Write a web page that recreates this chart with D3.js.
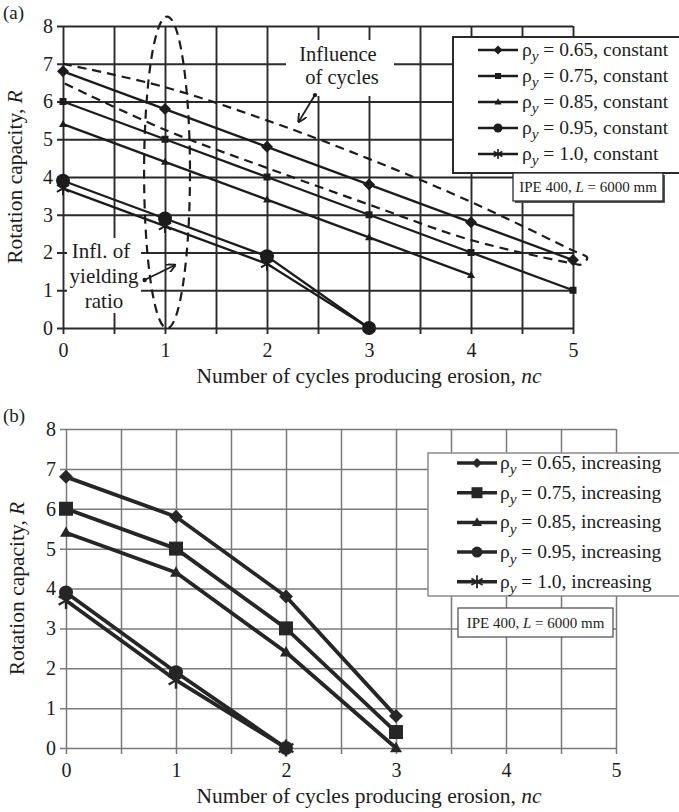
<!DOCTYPE html>
<html><head><meta charset="utf-8">
<script src="https://cdn.jsdelivr.net/npm/d3@7"></script>
<style>
body{margin:0;background:#fff}
svg{display:block}
text{font-family:"Liberation Serif","Times New Roman",serif;fill:#1c1c1c}
</style>
</head><body>
<svg id="c" width="679" height="812"></svg>
<script>
// ---------- data ----------
const ncTicks = [0, 1, 2, 3, 4, 5];
const rTicks = [0, 1, 2, 3, 4, 5, 6, 7, 8];
const rhoLabels = ["0.65", "0.75", "0.85", "0.95", "1.0"];
const markerTypes = ["diamond", "square", "triangle", "circle", "asterisk"];

// (a) constant yielding ratio
const ncA = [0, 1, 2, 3, 4, 5];
const constant065 = [6.8, 5.8, 4.8, 3.8, 2.8, 1.8];
const constant075 = [6.0, 5.0, 4.0, 3.0, 2.0, 1.0];
const constant085 = [5.4, 4.4, 3.4, 2.4, 1.4];
const constant095 = [3.9, 2.9, 1.9, 0.0];
const constant100 = [3.7, 2.7, 1.7, 0.0];

// (b) increasing yielding ratio
const ncB = [0, 1, 2, 3];
const increasing065 = [6.8, 5.8, 3.8, 0.8];
const increasing075 = [6.0, 5.0, 3.0, 0.4];
const increasing085 = [5.4, 4.4, 2.4, 0.0];
const increasing095 = [3.9, 1.9, 0.0];
const increasing100 = [3.7, 1.7, 0.0];

// annotation outlines (data units)
const cyclesEnvelopeUpper = [[0, 7.0], [1, 6.38], [2, 5.5], [3, 4.48], [4, 3.34], [5, 2.05], [5.14, 1.86]];
const cyclesEnvelopeLower = [[5.08, 1.68], [5, 1.71], [4, 2.33], [3, 3.27], [2, 4.24], [1, 5.25], [0, 6.5]];
const yieldEllipse = {cx: 1.02, cy: 4.12, rx: 0.225, ry: 4.13};

const seriesA = [constant065, constant075, constant085, constant095, constant100];
const seriesB = [increasing065, increasing075, increasing085, increasing095, increasing100];

// ---------- drawing ----------
const svg = d3.select("#c");
const INK = "#1c1c1c";

function marker(g, type, cx, cy, s, color) {
  const h = s / 2;
  if (type === "diamond") {
    g.append("path").attr("d", `M${cx},${cy - h}L${cx + h},${cy}L${cx},${cy + h}L${cx - h},${cy}Z`).attr("fill", color);
  } else if (type === "square") {
    g.append("rect").attr("x", cx - h).attr("y", cy - h).attr("width", s).attr("height", s).attr("fill", color);
  } else if (type === "triangle") {
    const th = s * 0.87;
    g.append("path").attr("d", `M${cx},${cy - th * 0.6}L${cx + h},${cy + th * 0.4}L${cx - h},${cy + th * 0.4}Z`).attr("fill", color);
  } else if (type === "circle") {
    g.append("circle").attr("cx", cx).attr("cy", cy).attr("r", h).attr("fill", color);
  } else if (type === "asterisk") {
    [90, 30, 150].forEach(a => {
      const r = a * Math.PI / 180;
      g.append("line")
        .attr("x1", cx - h * Math.cos(r)).attr("y1", cy - h * Math.sin(r))
        .attr("x2", cx + h * Math.cos(r)).attr("y2", cy + h * Math.sin(r))
        .attr("stroke", color).attr("stroke-width", Math.max(1.6, s / 7));
    });
  }
}

function rhoText(g, x, y, rho, suffix, size) {
  const t = g.append("text").attr("x", x).attr("y", y).attr("font-size", size);
  t.append("tspan").text("ρ");
  t.append("tspan").attr("font-style", "italic").attr("font-size", size * 0.78).attr("dy", size * 0.28).text("y");
  t.append("tspan").attr("dy", -size * 0.28).text(` = ${rho}, ${suffix}`);
}

function panel(cfg) {
  const g = svg.append("g");
  const x = d3.scaleLinear().domain([0, 5]).range([cfg.left, cfg.right]);
  const y = d3.scaleLinear().domain([0, 8]).range([cfg.bottom, cfg.top]);
  const halfSteps = d3.range(0, 5.001, 0.5);

  const ya = g.append("g").attr("transform", `translate(${cfg.left - 6},0)`)
    .call(d3.axisLeft(y).tickValues(rTicks).tickSize(-(cfg.right - cfg.left + 6)).tickPadding(4).tickFormat(d3.format("d")));
  const xa = g.append("g").attr("transform", `translate(0,${cfg.bottom + 6})`)
    .call(d3.axisBottom(x).tickValues(halfSteps).tickSize(-(cfg.bottom - cfg.top + 6)).tickPadding(9)
      .tickFormat(d => Number.isInteger(d) ? d : ""));
  [ya, xa].forEach(a => {
    a.select(".domain").remove();
    a.selectAll(".tick line").attr("stroke", cfg.gridColor).attr("stroke-width", cfg.gridWidth);
    a.selectAll(".tick text").attr("font-size", 20).attr("fill", "#1c1c1c")
      .style("font-family", '"Liberation Serif","Times New Roman",serif');
  });

  g.append("text").attr("x", 3).attr("y", cfg.top - 7).attr("font-size", 19).text(cfg.tag);

  const yt = g.append("text").attr("transform", `translate(${cfg.yTitleX},${(cfg.top + cfg.bottom) / 2}) rotate(-90)`)
    .attr("text-anchor", "middle").attr("font-size", 21.5);
  yt.append("tspan").text("Rotation capacity, ");
  yt.append("tspan").attr("font-style", "italic").text("R");
  const xt = g.append("text").attr("x", 369).attr("y", cfg.bottom + 55).attr("text-anchor", "middle").attr("font-size", 21.5);
  xt.append("tspan").text("Number of cycles producing erosion, ");
  xt.append("tspan").attr("font-style", "italic").text("nc");

  return {g, x, y};
}

// ---------------- Panel (a) ----------------
const A = panel({tag: "(a)", left: 63, right: 573, top: 26, bottom: 328, gridColor: "#2a2a2a", gridWidth: 1.9, yTitleX: 22});

A.g.append("rect").attr("x", 286).attr("y", 40).attr("width", 108).attr("height", 56).attr("fill", "#fff");
A.g.append("rect").attr("x", 67).attr("y", 238).attr("width", 74).attr("height", 75).attr("fill", "#fff");

const lineA = d3.line().x((d, i) => A.x(ncA[i])).y(d => A.y(d));
const sizesA = [12, 7, 8, 14, 14];
seriesA.forEach(s => {
  A.g.append("path").attr("d", lineA(s)).attr("fill", "none").attr("stroke", INK).attr("stroke-width", 2.3);
});
seriesA.forEach((s, k) => {
  s.forEach((v, i) => marker(A.g, markerTypes[k], A.x(ncA[i]), A.y(v), sizesA[k], INK));
});

const env = d3.line().x(d => A.x(d[0])).y(d => A.y(d[1])).curve(d3.curveCatmullRom);
A.g.append("path").attr("d", env(cyclesEnvelopeUpper.concat(cyclesEnvelopeLower)))
  .attr("fill", "none").attr("stroke", INK).attr("stroke-width", 2.2).attr("stroke-dasharray", "9,6");
A.g.append("ellipse")
  .attr("cx", A.x(yieldEllipse.cx)).attr("cy", A.y(yieldEllipse.cy))
  .attr("rx", A.x(yieldEllipse.rx) - A.x(0)).attr("ry", A.y(0) - A.y(yieldEllipse.ry))
  .attr("fill", "none").attr("stroke", INK).attr("stroke-width", 2.2).attr("stroke-dasharray", "9,6");

const defs = svg.append("defs");
defs.append("marker").attr("id", "ah").attr("viewBox", "0 0 10 10").attr("refX", 9).attr("refY", 5)
  .attr("markerWidth", 9).attr("markerHeight", 9).attr("orient", "auto").attr("markerUnits", "userSpaceOnUse")
  .append("path").attr("d", "M0,0L10,5L0,10").attr("fill", "none").attr("stroke", INK).attr("stroke-width", 2);
function arrow(from, to) {
  A.g.append("line").attr("x1", A.x(from[0])).attr("y1", A.y(from[1])).attr("x2", A.x(to[0])).attr("y2", A.y(to[1]))
    .attr("stroke", INK).attr("stroke-width", 1.8).attr("marker-end", "url(#ah)");
  A.g.append("circle").attr("cx", A.x(from[0])).attr("cy", A.y(from[1])).attr("r", 2.2).attr("fill", INK);
}
arrow([2.47, 6.17], [2.31, 5.46]);
arrow([0.80, 1.27], [1.10, 1.67]);

[["Influence", 338, 61], ["of cycles", 342, 84]].forEach(([t, xx, yy]) =>
  A.g.append("text").attr("x", xx).attr("y", yy).attr("text-anchor", "middle").attr("font-size", 20.5).text(t));
[["Infl. of", 101, 258], ["yielding", 104, 283], ["ratio", 104, 308]].forEach(([t, xx, yy]) =>
  A.g.append("text").attr("x", xx).attr("y", yy).attr("text-anchor", "middle").attr("font-size", 21).text(t));

const LA = A.g.append("g");
LA.append("rect").attr("x", 453).attr("y", 37).attr("width", 240).attr("height", 136)
  .attr("fill", "#fff").attr("stroke", "#2a2a2a").attr("stroke-width", 2);
const legSizesA = [9, 6, 7, 9, 10];
rhoLabels.forEach((r, i) => {
  const yy = 50 + i * 26;
  LA.append("line").attr("x1", 478).attr("x2", 518).attr("y1", yy).attr("y2", yy).attr("stroke", INK).attr("stroke-width", 2.3);
  marker(LA, markerTypes[i], 498, yy, legSizesA[i], INK);
  rhoText(LA, 522, yy + 6, r, "constant", 19.5);
});
A.g.append("rect").attr("x", 515).attr("y", 175).attr("width", 150).attr("height", 28).attr("fill", "#555");
A.g.append("rect").attr("x", 513).attr("y", 173).attr("width", 150).attr("height", 28)
  .attr("fill", "#fff").attr("stroke", "#2a2a2a").attr("stroke-width", 1.3);
const ipeA = A.g.append("text").attr("x", 588).attr("y", 192).attr("text-anchor", "middle").attr("font-size", 15);
ipeA.append("tspan").text("IPE 400, ");
ipeA.append("tspan").attr("font-style", "italic").text("L");
ipeA.append("tspan").text(" = 6000 mm");

// ---------------- Panel (b) ----------------
const B = panel({tag: "(b)", left: 66, right: 616, top: 429, bottom: 748, gridColor: "#7a7a7a", gridWidth: 1.5, yTitleX: 24});
const lineB = d3.line().x((d, i) => B.x(ncB[i])).y(d => B.y(d));
const sizesB = [14, 14, 12, 14, 17];
seriesB.forEach(s => {
  B.g.append("path").attr("d", lineB(s)).attr("fill", "none").attr("stroke", "#262626").attr("stroke-width", 3.8)
    .attr("stroke-linejoin", "round");
});
seriesB.forEach((s, k) => {
  s.forEach((v, i) => marker(B.g, markerTypes[k], B.x(ncB[i]), B.y(v), sizesB[k], "#262626"));
});

const LB = B.g.append("g");
LB.append("rect").attr("x", 428).attr("y", 453).attr("width", 262).attr("height", 143)
  .attr("fill", "#fff").attr("stroke", "#8a8a8a").attr("stroke-width", 1.5);
const legSizesB = [10, 11, 10, 11, 13];
rhoLabels.forEach((r, i) => {
  const yy = 463 + i * 29.7;
  LB.append("line").attr("x1", 457).attr("x2", 497).attr("y1", yy).attr("y2", yy).attr("stroke", "#262626").attr("stroke-width", 3.5);
  marker(LB, markerTypes[i], 477, yy, legSizesB[i], "#262626");
  rhoText(LB, 500, yy + 6, r, "increasing", 19.5);
});
B.g.append("rect").attr("x", 458).attr("y", 608).attr("width", 155).attr("height", 29)
  .attr("fill", "#fff").attr("stroke", "#555").attr("stroke-width", 1.3);
const ipeB = B.g.append("text").attr("x", 535.5).attr("y", 628).attr("text-anchor", "middle").attr("font-size", 15);
ipeB.append("tspan").text("IPE 400, ");
ipeB.append("tspan").attr("font-style", "italic").text("L");
ipeB.append("tspan").text(" = 6000 mm");
</script>
</body></html>
